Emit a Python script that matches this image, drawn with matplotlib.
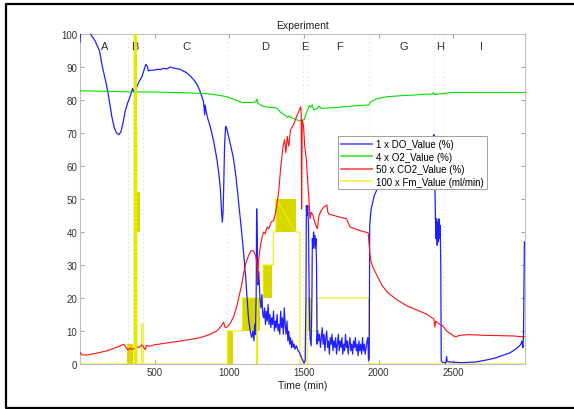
import numpy as np
import matplotlib
matplotlib.use("Agg")
import matplotlib.pyplot as plt
from matplotlib.lines import Line2D

plt.rcParams['font.family'] = ['Liberation Sans', 'DejaVu Sans']

# DO (1x)
do_t = [0, 4, 60, 70, 100, 130, 148, 165, 180, 197, 213, 230, 245, 262, 275, 290, 302, 318, 335, 345, 352, 358, 363,
        370, 380, 395, 414, 428, 441, 450, 458, 470, 500, 520, 537, 560, 580, 604, 625, 650, 671, 690, 710, 725, 738,
        760, 783, 805, 820, 827, 832, 835, 838, 845, 855, 872, 895, 917, 930, 940, 948, 953, 958, 963, 968, 975, 982,
        995, 1010, 1027, 1045, 1060, 1078, 1095, 1110, 1118, 1128, 1140, 1150, 1158, 1165, 1170, 1175, 1180, 1183,
        1187, 1190, 1197, 1205, 1212, 1218, 1224]
do_v = [97.5, 101, 101, 100, 98, 95, 90.5, 87, 84, 79.5, 75, 71.5, 70, 69.5, 70.5, 73.5, 76.5, 79, 81, 82.5, 83.5,
        82.5, 83, 82, 84, 85.5, 87, 89, 90.8, 90.3, 88.8, 89, 89.1, 89.3, 89.2, 89.6, 89.4, 90, 89.7, 89.5, 89.3, 88.8,
        88.4, 87.8, 87.3, 86.2, 84.8, 82.5, 80.5, 79.5, 77, 75.5, 78.5, 76.5, 74.5, 72, 67.5, 62, 57.5, 53, 46, 43, 46,
        55, 66, 72, 71.5, 69, 66, 62.5, 56.5, 50, 42, 34, 26, 20.5, 14, 10, 8, 10, 7, 12, 9, 22, 47, 38, 24, 28, 20,
        17, 21, 15]
# noisy part 1230-1440 (every 6 min)
do_n1 = [14, 17, 12, 16, 13, 18, 12, 15, 11, 14, 12, 16, 10, 13, 11, 15, 10, 12, 9, 16, 11, 14, 9, 17, 12, 9, 13,
         7, 10, 6, 8, 5, 7, 5, 6, 4.5]
do_t2 = [1450, 1460, 1470, 1487, 1500, 1508, 1513, 1516, 1520, 1525, 1530, 1535, 1540, 1548, 1553, 1556, 1560, 1564,
         1568, 1572, 1576, 1580, 1584, 1587]
do_v2 = [5.5, 4, 3.5, 1.5, 0.3, 1, 20, 48, 45, 48, 42, 20, 8, 5.5, 20, 38, 35, 40, 36, 39, 35, 38, 30, 6]
# noisy part 1592-1922 (every 6 min)
do_n2 = [10, 7, 9, 5, 8, 11, 6, 9, 4, 8, 10, 5, 7, 3, 8, 6, 9, 4, 7, 5, 8, 3, 6, 9, 4, 7, 5, 8, 3, 6, 4, 9, 5, 7,
         3, 6, 8, 4, 6, 3, 7, 5, 8, 4, 6, 2.5, 7, 4, 6, 3, 8, 4, 6, 3, 5, 7]
do_t3 = [1928, 1932, 1937, 1940, 1950, 1970, 1990, 2005, 2030, 2060, 2100, 2150, 2200, 2260, 2320, 2365, 2372, 2376,
         2380, 2384, 2388, 2392, 2396, 2400, 2404, 2408, 2412, 2416, 2419, 2430, 2450, 2455, 2458, 2480, 2550, 2650,
         2720, 2780, 2830, 2880, 2920, 2950, 2960, 2966, 2970, 2976]
do_v3 = [8, 1, 2, 42, 47, 51, 53, 56, 58, 60.5, 62.5, 64.5, 66, 67.3, 68.3, 69, 69.5, 55, 45, 38, 44, 36, 43, 37, 44,
         38, 42, 30, 1, 0.5, 0.3, 2.2, 0.8, 0.6, 0.4, 0.6, 1.2, 1.8, 2.6, 3.4, 4.6, 5.8, 7, 5, 9, 37]

# O2 (4x)
o2_t = [0, 100, 300, 500, 700, 850, 920, 984, 1040, 1090, 1118, 1150, 1178, 1185, 1192, 1220, 1253, 1290, 1320, 1345,
        1370, 1390, 1400, 1409, 1440, 1476, 1500, 1512, 1520, 1535, 1545, 1555, 1565, 1590, 1600, 1615, 1633, 1700,
        1785, 1860, 1932, 1945, 1970, 1990, 2057, 2150, 2235, 2300, 2360, 2368, 2375, 2400, 2450, 2505, 2600, 2980]
o2_v = [82.8, 82.7, 82.5, 82.4, 82.2, 81.9, 81.5, 81, 80, 79.2, 79.3, 79.2, 79.5, 80.3, 79, 78.2, 77.8, 77.8, 77.5,
        76.2, 75.5, 74.7, 75.2, 74.8, 74.2, 73.6, 74, 75.5, 76.5, 78.3, 77.8, 78.5, 77, 77.5, 78.2, 77.5, 77.5, 77.7,
        78, 78.3, 78.5, 79.3, 80, 80.4, 81, 81.3, 81.5, 81.7, 81.8, 82.2, 81.6, 81.8, 82.1, 82.3, 82.3, 82.3]

# CO2 (50x)
co2_t = [0, 10, 40, 80, 134, 180, 230, 270, 290, 300, 310, 322, 335, 350, 365, 380, 395, 414, 425, 436, 445, 463, 500,
         582, 650, 720, 805, 860, 917, 945, 962, 970, 980, 1006, 1030, 1051, 1070, 1085, 1096, 1110, 1130, 1145, 1163,
         1178, 1186, 1190, 1195, 1208, 1220, 1230, 1240, 1253, 1265, 1280, 1297, 1310, 1330, 1345, 1360, 1370, 1378,
         1388, 1398, 1410, 1430, 1450, 1470, 1478, 1481, 1484, 1488, 1497, 1505, 1516, 1525, 1533, 1540, 1548, 1560,
         1575, 1590, 1600, 1615, 1630, 1653, 1660, 1665, 1700, 1740, 1785, 1800, 1808, 1840, 1875, 1910, 1930, 1938,
         1945, 1960, 1990, 2020, 2057, 2120, 2190, 2260, 2325, 2370, 2376, 2382, 2395, 2410, 2430, 2455, 2480, 2500,
         2510, 2545, 2600, 2700, 2800, 2900, 2980]
co2_v = [3.6, 2.8, 2.7, 3, 3.5, 4, 4.8, 5.5, 6, 5.6, 4.8, 4.3, 4.8, 4.4, 4.8, 5.2, 5, 5.8, 5.2, 4.3, 5.6, 5.4, 5.8,
         6.4, 6.8, 7.3, 8, 8.8, 10, 11.5, 12.7, 11.2, 11, 12.3, 14.5, 17.7, 21.5, 24.5, 27.5, 30.5, 33, 34.3, 34.3,
         32.5, 30, 25, 31, 35.8, 38.5, 40, 39.5, 41.5, 41, 43, 43.5, 46, 52, 60, 66, 68, 64, 69, 66, 71, 72.5, 75, 77,
         78, 76, 47, 74, 72, 66, 62, 55, 50, 44, 46, 45, 42.5, 41, 45, 46.5, 47.5, 48.2, 46, 45.5, 45, 44.5, 44, 42.5,
         41.5, 41, 40.4, 40, 39.7, 35, 31.8, 29.5, 26.7, 24, 21.8, 19.5, 17.6, 16.3, 15, 13.6, 11.2, 13, 12.5, 12,
         11.5, 10, 9.2, 8.6, 8.2, 8.7, 8.9, 8.7, 8.6, 8.5, 8.2]

# Fm (100x): step outline and dense toggling blocks (t0, t1, lo, hi)
fm_t = [0, 362, 362, 376, 376, 378, 378, 381, 381, 412, 412, 424, 424, 988, 988, 1025, 1088, 1088, 1183, 1183, 1187,
        1187, 1205, 1227, 1227, 1288, 1295, 1295, 1312, 1312, 1446, 1472, 1472, 1520, 1520, 1550, 1550, 1590, 1590,
        1933, 1933, 2980]
fm_v = [0, 0, 100, 100, 0, 0, 72, 72, 0, 0, 12, 12, 0, 0, 10, 10, 10, 20, 20, 0, 0, 20, 20, 20, 30, 30, 30, 40, 40,
        50, 40, 40, 0, 0, 20, 20, 10, 10, 20, 20, 0, 0]
blk_t0 = [318, 381, 988, 1088, 1227, 1312, 1527]
blk_t1 = [352, 404, 1025, 1205, 1288, 1446, 1550]
blk_lo = [0, 40, 0, 10, 20, 40, 10]
blk_hi = [6, 52, 10, 20, 30, 50, 20]

phases = ['A', 'B', 'C', 'D', 'E', 'F', 'G', 'H', 'I']
phase_x = [168, 365, 711, 1242, 1503, 1738, 2168, 2409, 2691]
bounds = [320, 420, 985, 1490, 1525, 1935, 2370, 2430]

do_tt = do_t + list(np.arange(1230, 1441, 6)) + do_t2 + list(np.arange(1592, 1923, 6)) + do_t3
do_vv = do_v + do_n1 + do_v2 + do_n2 + do_v3

fig = plt.figure(figsize=(5.74, 4.10), dpi=100)
ax = fig.add_axes([80 / 574, 45 / 410, 445 / 574, 330 / 410])

for b in bounds:
    ax.axvline(b, color='#c8c8c8', lw=0.6, ls=(0, (1, 4)), zorder=0)

l1, = ax.plot(do_tt, do_vv, color='#2020ff', lw=0.9, label='1 x DO_Value (%)', zorder=3)
l2, = ax.plot(o2_t, o2_v, color='#00e000', lw=0.8, label='4 x O2_Value (%)', zorder=3)
l3, = ax.plot(co2_t, co2_v, color='#ff1010', lw=0.8, label='50 x CO2_Value (%)', zorder=3)
for a, b, lo, hi in zip(blk_t0, blk_t1, blk_lo, blk_hi):
    ax.fill_between([a, b], [lo, lo], [hi, hi], color='#d8d800', lw=0, zorder=2)
l4, = ax.plot(fm_t, fm_v, color='#eeee00', lw=0.8, label='100 x Fm_Value (ml/min)', zorder=2)
ax.plot([369, 369], [0, 100], color='#e8e800', lw=2.0, zorder=4)

for p, x in zip(phases, phase_x):
    ax.text(x, 96.5, p, ha='center', va='center', fontsize=8, color='#303030')

ax.set_xlim(0, 2980)
ax.set_ylim(0, 100)
ax.set_xticks([500, 1000, 1500, 2000, 2500])
ax.set_yticks(range(0, 101, 10))
ax.tick_params(direction='in', length=3, width=0.6, color='#909090', labelsize=7, labelcolor='#333333',
               top=True, right=True, labeltop=False, labelright=False, pad=2)
for s in ax.spines.values():
    s.set_color('#c0c0c0')
    s.set_linewidth(0.8)
ax.set_title('Experiment', fontsize=7.5, color='#222222', pad=4)
ax.set_xlabel('Time (min)', fontsize=7.5, color='#222222', labelpad=2)

leg = ax.legend(handles=[l1, l2, l3, l4], loc='upper left', bbox_to_anchor=(0.58, 0.69), fontsize=7,
                frameon=True, fancybox=False, framealpha=1, edgecolor='#a0a0a0', handlelength=3.2,
                borderpad=0.3, labelspacing=0.25, handletextpad=0.4, borderaxespad=0)
leg.get_frame().set_linewidth(0.7)
leg.set_zorder(10)
for ln in leg.get_lines():
    ln.set_linewidth(1.3)
    ln.set_alpha(0.7)

# outer black frame: top, left and bottom only (right edge lies outside the image)
fx = [1.0, 6 / 574, 6 / 574, 1.0]
fy = [1 - 5 / 410, 1 - 5 / 410, 1.5 / 410, 1.5 / 410]
fig.add_artist(Line2D(fx, fy, transform=fig.transFigure, color='black', lw=1.6))

fig.savefig('out.png', dpi=100)
